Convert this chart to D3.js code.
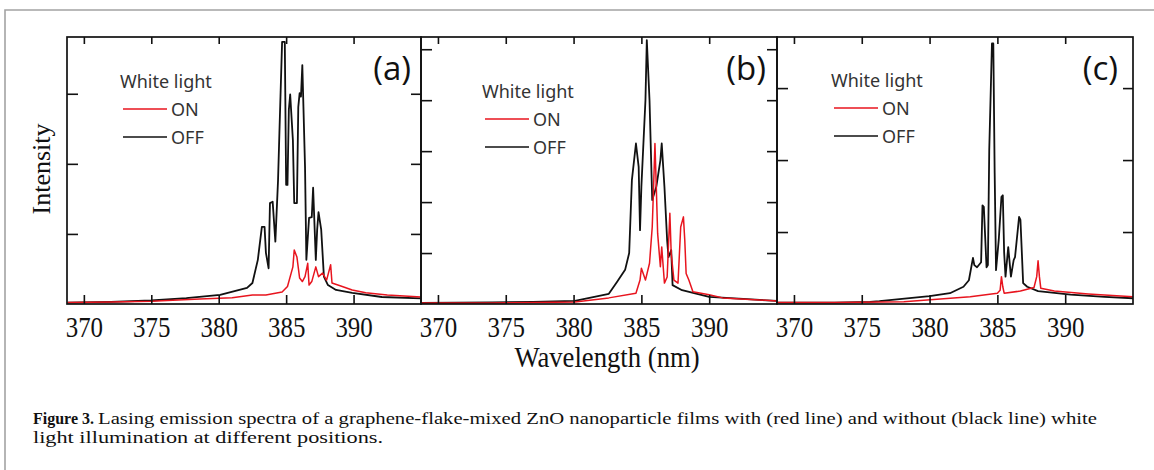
<!DOCTYPE html>
<html>
<head>
<meta charset="utf-8">
<script src="https://cdn.jsdelivr.net/npm/d3@7"></script>
<style>
  body { margin: 0; background: #fff; }
  svg { display: block; }
</style>
</head>
<body>
<svg id="chart" width="1154" height="470"></svg>
<script>
// tick labels shared by the three panels
const xTicks = [370, 375, 380, 385, 390];
const panelNames = ["(a)", "(b)", "(c)"];
const legendTitle = "White light";
const legendLabels = ["ON", "OFF"];

// spectra: [wavelength nm, intensity in tick units]
const aOff = [[368.8,0.02],[372,0.03],[375,0.05],[377.6,0.085],[380.1,0.13],[382.1,0.23],[382.5,0.3],[382.9,0.63],[383.2,1.1],[383.4,1.1],[383.5,0.73],[383.7,0.51],[383.8,1.44],[384.0,1.46],[384.2,0.89],[384.4,1.77],[384.5,2.44],[384.7,3.74],[384.9,3.74],[385.0,1.7],[385.1,1.7],[385.2,2.77],[385.3,2.99],[385.5,2.34],[385.6,1.44],[385.8,1.44],[385.9,2.81],[386.0,3.01],[386.1,2.96],[386.2,3.41],[386.4,1.96],[386.5,0.63],[386.7,1.23],[386.9,1.24],[387.0,1.66],[387.2,0.63],[387.3,1.06],[387.4,1.31],[387.6,1.06],[387.8,0.39],[388.1,0.27],[388.7,0.2],[389.9,0.16],[392.1,0.1],[395,0.08]];
const aOn = [[368.8,0.02],[372,0.03],[375,0.04],[378.6,0.07],[381.0,0.09],[382.5,0.13],[383.5,0.13],[384.7,0.17],[385.1,0.25],[385.5,0.53],[385.6,0.77],[385.8,0.67],[386.0,0.37],[386.2,0.32],[386.4,0.39],[386.6,0.58],[386.7,0.27],[386.9,0.32],[387.2,0.53],[387.4,0.39],[387.7,0.44],[388.0,0.34],[388.3,0.56],[388.4,0.3],[389.0,0.26],[389.9,0.2],[390.9,0.16],[392.5,0.13],[395,0.1]];
const bOff = [[368.8,0.02],[374,0.03],[377,0.04],[380.1,0.06],[382.6,0.2],[383.2,0.43],[383.8,0.67],[384.1,1.0],[384.3,2.43],[384.6,3.15],[384.8,2.69],[384.9,1.45],[385.0,2.3],[385.3,4.0],[385.4,5.18],[385.6,4.0],[385.8,2.04],[386.1,2.3],[386.4,2.82],[386.5,3.15],[386.7,2.3],[386.9,1.25],[387.0,0.92],[387.2,1.06],[387.3,0.37],[388.0,0.27],[390.0,0.14],[392.5,0.1],[395,0.06]];
const bOn = [[368.8,0.02],[374,0.02],[377,0.03],[380.1,0.04],[382.6,0.12],[384.6,0.21],[384.9,0.47],[385.0,0.7],[385.3,0.47],[385.6,0.8],[385.8,1.51],[385.9,2.3],[386.0,3.15],[386.1,2.29],[386.2,1.38],[386.4,0.73],[386.5,1.12],[386.7,0.41],[386.9,0.53],[387.1,1.78],[387.2,0.99],[387.4,0.47],[387.7,0.41],[387.9,1.51],[388.1,1.71],[388.2,1.25],[388.3,0.6],[388.5,0.47],[388.8,0.24],[390.0,0.18],[391.0,0.12],[393,0.09],[395,0.06]];
const cOff = [[368.8,0.02],[373,0.02],[375.6,0.03],[376.3,0.04],[380.0,0.11],[381.5,0.15],[382.5,0.24],[382.9,0.33],[383.2,0.64],[383.3,0.54],[383.5,0.51],[383.8,0.58],[383.9,1.37],[384.0,1.35],[384.2,0.51],[384.3,0.54],[384.4,2.14],[384.6,3.62],[384.7,3.62],[384.8,1.82],[384.9,0.47],[385.1,0.89],[385.3,1.49],[385.4,1.51],[385.5,0.71],[385.6,0.38],[385.8,0.79],[386.0,0.38],[386.2,0.61],[386.3,0.65],[386.6,1.21],[386.7,1.17],[386.9,0.29],[387.2,0.24],[388.0,0.18],[390.4,0.13],[392.9,0.1],[395,0.08]];
const cOn = [[368.8,0.02],[373,0.02],[378.1,0.03],[383.0,0.1],[385.0,0.15],[385.2,0.19],[385.3,0.38],[385.4,0.24],[385.5,0.15],[386.7,0.18],[387.7,0.23],[387.9,0.38],[388.0,0.6],[388.1,0.38],[388.2,0.22],[389.2,0.18],[391.7,0.14],[395,0.1]];

const panels = [
    { name: panelNames[0], on: aOn, off: aOff, yTop: 3.81, yTicks: [1, 2, 3], x0: 67, x1: 421, lx: 120, ly: 88, nameX: 411 },
    { name: panelNames[1], on: bOn, off: bOff, yTop: 5.24, yTicks: [1, 2, 3, 4, 5], x0: 421, x1: 777, lx: 482, ly: 98, nameX: 766 },
    { name: panelNames[2], on: cOn, off: cOff, yTop: 3.71, yTicks: [1, 2, 3], x0: 777, x1: 1133, lx: 831, ly: 87, nameX: 1118 }
];

const svg = d3.select("#chart");
const plotTop = 37, plotBottom = 304;
const red = "#e8141e", black = "#111";
const serif = "'Liberation Serif', 'Times New Roman', serif";

// grey page frame
svg.append("path")
    .attr("d", "M5,470 L5,10 L1154,10")
    .attr("fill", "none").attr("stroke", "#a3a3a3").attr("stroke-width", 1.6);

panels.forEach(p => {
    const x = d3.scaleLinear().domain([368.75, 395]).range([p.x0, p.x1]);
    const y = d3.scaleLinear().domain([0, p.yTop]).range([plotBottom, plotTop]);
    const g = svg.append("g");

    const clipId = "clip" + p.x0;
    svg.append("clipPath").attr("id", clipId).append("rect")
        .attr("x", p.x0).attr("y", plotTop - 2).attr("width", p.x1 - p.x0).attr("height", plotBottom - plotTop + 2);

    const line = d3.line().x(d => x(d[0])).y(d => y(d[1]));

    g.append("path").datum(p.off).attr("d", line).attr("clip-path", `url(#${clipId})`)
        .attr("fill", "none").attr("stroke", black).attr("stroke-width", 1.8).attr("stroke-linejoin", "round");
    g.append("path").datum(p.on).attr("d", line).attr("clip-path", `url(#${clipId})`)
        .attr("fill", "none").attr("stroke", red).attr("stroke-width", 1.5).attr("stroke-linejoin", "round");

    // inward ticks on all four sides
    const bAxis = g.append("g").attr("transform", `translate(0,${plotBottom})`)
        .call(d3.axisBottom(x).tickValues(xTicks).tickSize(-9).tickPadding(12.5).tickFormat(d3.format("d")));
    const tAxis = g.append("g").attr("transform", `translate(0,${plotTop})`)
        .call(d3.axisTop(x).tickValues(xTicks).tickSize(-7).tickFormat(""));
    const lAxis = g.append("g").attr("transform", `translate(${p.x0},0)`)
        .call(d3.axisLeft(y).tickValues(p.yTicks).tickSize(-11).tickFormat(""));
    const rAxis = g.append("g").attr("transform", `translate(${p.x1},0)`)
        .call(d3.axisRight(y).tickValues(p.yTicks).tickSize(-10).tickFormat(""));

    [bAxis, tAxis, lAxis, rAxis].forEach(a => {
        a.select(".domain").remove();
        a.selectAll(".tick line").attr("stroke", black).attr("stroke-width", 1.6);
    });
    bAxis.selectAll(".tick text")
        .attr("font-family", serif).attr("font-size", 29)
        .attr("fill", "#111").attr("transform", "scale(0.86,1)");

    g.append("rect")
        .attr("x", p.x0).attr("y", plotTop).attr("width", p.x1 - p.x0).attr("height", plotBottom - plotTop)
        .attr("fill", "none").attr("stroke", black).attr("stroke-width", 1.7);

    // legend
    const lg = g.append("g").attr("font-family", "'Noto Sans', sans-serif").attr("font-size", 18).attr("fill", "#333");
    lg.append("text").attr("x", p.lx).attr("y", p.ly).text(legendTitle);
    [red, black].forEach((c, i) => {
        const yy = p.ly + 21 + i * 28;
        lg.append("line").attr("x1", p.lx + 3).attr("x2", p.lx + 47).attr("y1", yy).attr("y2", yy)
            .attr("stroke", c).attr("stroke-width", 1.4);
        lg.append("text").attr("x", p.lx + 51).attr("y", yy + 7).text(legendLabels[i]);
    });

    g.append("text").attr("x", p.nameX).attr("y", 80).attr("text-anchor", "end")
        .attr("font-family", "'Open Sans', sans-serif").attr("font-size", 33).attr("font-weight", 500)
        .attr("fill", "#111").text(p.name);
});

// axis titles
svg.append("text").attr("transform", "translate(50,169) rotate(-90)")
    .attr("text-anchor", "middle").attr("font-family", serif)
    .attr("font-size", 26).attr("fill", "#111").text("Intensity");
svg.append("text").attr("transform", "translate(607,367) scale(0.92,1)")
    .attr("text-anchor", "middle").attr("font-family", serif)
    .attr("font-size", 29).attr("fill", "#111").text("Wavelength (nm)");

// caption: bold lead-in, then the rest fitted to the line width
const capSize = 16;
const capLead = svg.append("text").attr("x", 33).attr("y", 424)
    .attr("font-family", serif).attr("font-size", capSize).attr("font-weight", "bold").attr("fill", "#111")
    .text("Figure 3.");
const leadEnd = 33 + capLead.node().getComputedTextLength() + 4;
svg.append("text").attr("x", leadEnd).attr("y", 424)
    .attr("font-family", serif).attr("font-size", capSize).attr("fill", "#111")
    .attr("textLength", 1097 - leadEnd).attr("lengthAdjust", "spacingAndGlyphs")
    .text("Lasing emission spectra of a graphene-flake-mixed ZnO nanoparticle films with (red line) and without (black line) white");
svg.append("text").attr("x", 33).attr("y", 443)
    .attr("font-family", serif).attr("font-size", capSize).attr("fill", "#111")
    .attr("textLength", 350).attr("lengthAdjust", "spacingAndGlyphs")
    .text("light illumination at different positions.");
</script>
</body>
</html>
